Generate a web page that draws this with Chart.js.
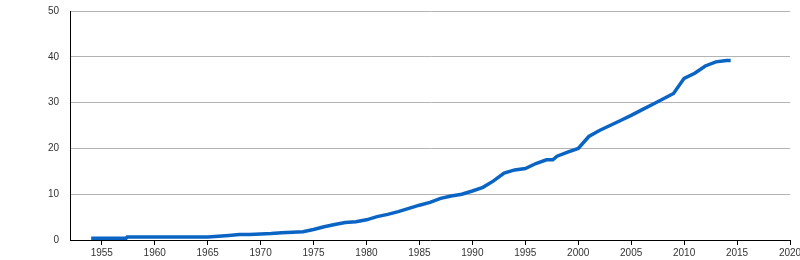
<!DOCTYPE html>
<html>
<head>
<meta charset="utf-8">
<script src="https://cdn.jsdelivr.net/npm/chart.js@4.4.1/dist/chart.umd.min.js"></script>
<style>
  html, body { margin: 0; padding: 0; background: #ffffff; overflow: hidden; }
  #wrap { width: 800px; height: 260px; overflow: hidden; }
</style>
</head>
<body>
<div id="wrap"><canvas id="c" width="810" height="260"></canvas></div>
<script>
// Data
const years = [1954, 1957.3, 1957.4, 1965, 1966, 1967, 1968, 1969, 1970, 1971, 1972, 1973, 1974,
  1975, 1976, 1977, 1978, 1979, 1980, 1981, 1982, 1983, 1984, 1985, 1986, 1987, 1988, 1989,
  1990, 1991, 1992, 1993, 1994, 1995, 1996, 1997, 1997.6, 1998, 1999, 2000, 2001, 2002, 2003,
  2004, 2005, 2006, 2007, 2008, 2009, 2010, 2011, 2012, 2013, 2014, 2014.4];
const values = [0.4, 0.4, 0.65, 0.65, 0.8, 1.0, 1.2, 1.2, 1.3, 1.4, 1.6, 1.7, 1.8,
  2.3, 2.9, 3.4, 3.8, 4.0, 4.4, 5.1, 5.6, 6.2, 6.9, 7.6, 8.2, 9.1, 9.6, 10.0,
  10.7, 11.5, 12.9, 14.6, 15.3, 15.6, 16.7, 17.5, 17.5, 18.3, 19.2, 20.0, 22.6, 23.9, 25.0,
  26.1, 27.2, 28.4, 29.6, 30.8, 32.0, 35.3, 36.4, 38.0, 38.9, 39.2, 39.2];
const xTickYears = [1955, 1960, 1965, 1970, 1975, 1980, 1985, 1990, 1995, 2000, 2005, 2010, 2015, 2020];
const yTickValues = [0, 10, 20, 30, 40, 50];

const points = years.map((y, i) => ({ x: y, y: values[i] }));

new Chart(document.getElementById('c'), {
  type: 'line',
  data: {
    datasets: [{
      data: points,
      borderColor: '#0a64c4',
      borderWidth: 3.5,
      pointRadius: 0,
      tension: 0,
      fill: false
    }]
  },
  options: {
    responsive: false,
    animation: false,
    layout: { padding: { left: 0, right: 20, top: 11, bottom: 0 } },
    plugins: { legend: { display: false }, tooltip: { enabled: false } },
    scales: {
      x: {
        type: 'linear',
        min: 1952,
        max: 2020,
        afterBuildTicks: (s) => { s.ticks = xTickYears.map(v => ({ value: v })); },
        afterFit: (s) => { s.height = 20; },
        ticks: {
          color: '#333333',
          padding: 2,
          maxRotation: 0,
          autoSkip: false,
          font: { family: 'Liberation Sans', size: 10 },
          callback: (v) => String(v)
        },
        grid: { drawOnChartArea: false, drawTicks: true, tickLength: 5, color: '#000000' },
        border: { color: '#000000', width: 1 }
      },
      y: {
        min: 0,
        max: 50,
        afterBuildTicks: (s) => { s.ticks = yTickValues.map(v => ({ value: v })); },
        afterFit: (s) => { s.width = 70; s.paddingTop = 0; s.paddingBottom = 0; },
        ticks: {
          color: '#333333',
          padding: 11,
          font: { family: 'Liberation Sans', size: 10 }
        },
        grid: { color: '#b3b3b3', drawTicks: false, lineWidth: 1 },
        border: { color: '#000000', width: 1 }
      }
    }
  }
});
</script>
</body>
</html>
